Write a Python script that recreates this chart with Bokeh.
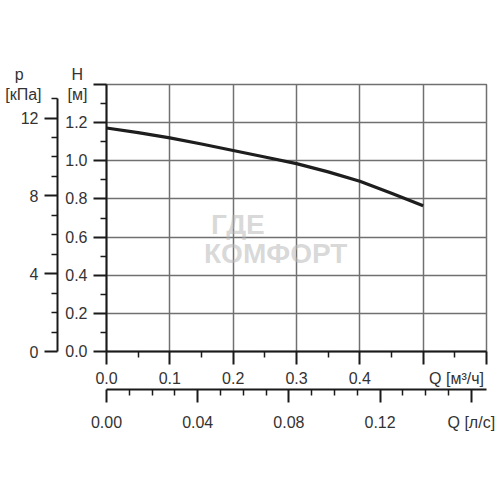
from bokeh.plotting import figure
from bokeh.models import (LinearAxis, Range1d, FixedTicker, PrintfTickFormatter, Label)
from bokeh.embed import file_html
from bokeh.resources import INLINE

# ---- data ----
flow_m3h = [0.0, 0.05, 0.10, 0.15, 0.20, 0.25, 0.30, 0.35, 0.40, 0.45, 0.50]
head_m = [1.172, 1.148, 1.12, 1.088, 1.054, 1.02, 0.985, 0.942, 0.893, 0.83, 0.764]

h_ticks = [0.0, 0.2, 0.4, 0.6, 0.8, 1.0, 1.2, 1.4]
h_minor = [0.1, 0.3, 0.5, 0.7, 0.9, 1.1, 1.3]
p_ticks = [0, 4, 8, 12]
p_minor = [1, 2, 3, 5, 6, 7, 9, 10, 11, 13]
q_ticks = [0.0, 0.1, 0.2, 0.3, 0.4, 0.5, 0.6]
q_minor = [0.05, 0.15, 0.25, 0.35, 0.45, 0.55]
ls_ticks = [0.0, 0.04, 0.08, 0.12, 0.16]
ls_minor = [0.01, 0.02, 0.03, 0.05, 0.06, 0.07, 0.09, 0.10, 0.11, 0.13, 0.14, 0.15]

H_MAX = 1.4
Q_MAX = 0.6
KPA_PER_M = 1 / 0.102
LS_PER_M3H = 1 / 3.6

NBSP = "\u00a0"
H_TITLE = "H" + NBSP + "\n[м]"
P_TITLE = "p" + NBSP * 4 + "\n[кПа]"
Q_TITLE = "Q [м³/ч]"
QLS_TITLE = "Q [л/с]"

FONT = "Liberation Sans"
TXT = "#333333"
AX = "#1a1a1a"
GRID = "#707070"

p = figure(width=496, height=496, output_backend="svg", toolbar_location=None,
           x_range=Range1d(0, Q_MAX), y_range=Range1d(0, H_MAX),
           min_border_left=106, min_border_right=10, min_border_top=84, min_border_bottom=145,
           background_fill_color="white", border_fill_color="white")
p.outline_line_color = GRID
p.outline_line_width = 1.5

p.extra_y_ranges = {"kpa": Range1d(0, H_MAX * KPA_PER_M)}
p.extra_x_ranges = {"ls": Range1d(0, Q_MAX * LS_PER_M3H)}

def style(ax, size="16px"):
    ax.axis_line_color = AX
    ax.axis_line_width = 2
    ax.major_tick_line_color = AX
    ax.major_tick_line_width = 2
    ax.minor_tick_line_color = AX
    ax.minor_tick_line_width = 1.5
    ax.major_tick_in = 0
    ax.minor_tick_in = 0
    ax.major_tick_out = 13
    ax.minor_tick_out = 6
    ax.major_label_text_font = FONT
    ax.major_label_text_font_size = size
    ax.major_label_text_color = TXT

# main left axis: H [m]
ya = p.yaxis[0]
style(ya)
ya.ticker = FixedTicker(ticks=h_ticks, minor_ticks=h_minor)
ya.formatter = PrintfTickFormatter(format="%.1f")
ya.major_label_overrides = {1.4: H_TITLE}
ya.major_label_standoff = 6
ya.axis_label = " "
ya.axis_label_text_font_size = "2px"
ya.axis_label_standoff = 0

# pressure axis
pa = LinearAxis(y_range_name="kpa", ticker=FixedTicker(ticks=p_ticks, minor_ticks=p_minor),
                bounds=(0, 13))
style(pa)
pa.major_label_standoff = 6
p.add_layout(pa, "left")

# header for the pressure axis (label-only axis)
ha = LinearAxis(ticker=FixedTicker(ticks=[H_MAX], minor_ticks=[]))
style(ha)
ha.axis_line_color = None
ha.major_tick_line_color = None
ha.minor_tick_line_color = None
ha.major_tick_out = 0
ha.minor_tick_out = 0
ha.major_label_overrides = {H_MAX: P_TITLE}
ha.major_label_standoff = -24
p.add_layout(ha, "left")

# main bottom axis: Q [m3/h]
xa = p.xaxis[0]
style(xa)
xa.ticker = FixedTicker(ticks=q_ticks, minor_ticks=q_minor)
xa.formatter = PrintfTickFormatter(format="%.1f")
xa.major_label_overrides = {0.5: NBSP * 15 + Q_TITLE, 0.6: ""}
xa.major_label_standoff = 5

# l/s axis
la = LinearAxis(x_range_name="ls", ticker=FixedTicker(ticks=ls_ticks, minor_ticks=ls_minor),
                formatter=PrintfTickFormatter(format="%.2f"))
style(la)
la.major_label_overrides = {0.16: QLS_TITLE}
la.major_label_standoff = 11
p.add_layout(la, "below")

# grid
p.xgrid.ticker = FixedTicker(ticks=[0.1, 0.2, 0.3, 0.4, 0.5])
p.ygrid.ticker = FixedTicker(ticks=[0.2, 0.4, 0.6, 0.8, 1.0, 1.2])
p.xgrid.grid_line_color = GRID
p.ygrid.grid_line_color = GRID
p.xgrid.grid_line_width = 1.5
p.ygrid.grid_line_width = 1.5

# watermark
p.add_layout(Label(x=0.165, y=0.665, text="ГДЕ", text_font=FONT, text_font_style="bold",
                   text_font_size="28px", text_color="#b8b8b8", text_alpha=0.55,
                   text_baseline="middle", text_align="left", level="underlay"))
p.add_layout(Label(x=0.154, y=0.515, text="КОМФОРТ", text_font=FONT, text_font_style="bold",
                   text_font_size="28px", text_color="#b8b8b8", text_alpha=0.55,
                   text_baseline="middle", text_align="left", level="underlay"))

# curve
p.line(flow_m3h, head_m, line_width=3.2, line_color="#1e1e1e", line_join="round")

open("out.html", "w").write(file_html(p, INLINE))
